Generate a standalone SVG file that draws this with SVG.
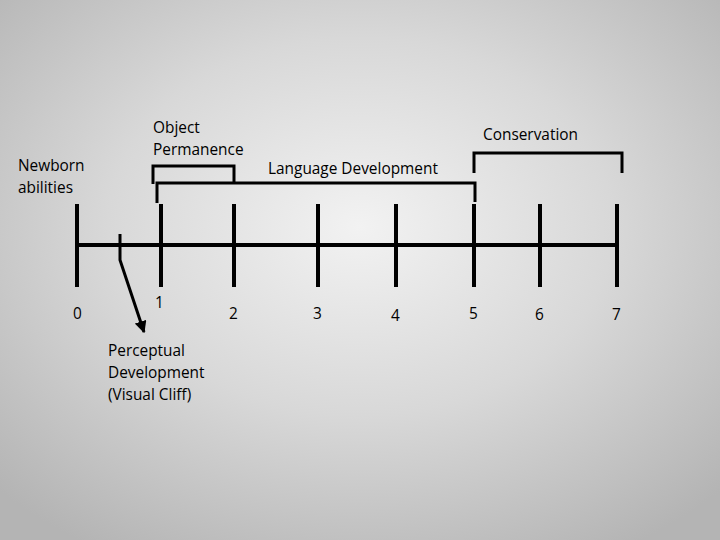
<svg xmlns="http://www.w3.org/2000/svg" width="720" height="540" viewBox="0 0 720 540">
<defs>
<radialGradient id="bg" cx="50%" cy="42%" r="70%"><stop offset="0" stop-color="#f2f2f2"/><stop offset="0.5" stop-color="#d8d8d8"/><stop offset="1" stop-color="#b4b4b4"/></radialGradient>
<marker id="ah" viewBox="0 0 10 10" refX="9" refY="5" markerWidth="4" markerHeight="4" orient="auto"><path d="M0,0 L10,5 L0,10z" fill="#000"/></marker>
<style>.t{font-family:"Open Sans","Liberation Sans",sans-serif;font-size:15.4px;fill:#000}.l{stroke:#000;stroke-width:4;fill:none}.b{stroke:#000;stroke-width:3;fill:none}</style>
</defs>
<rect width="720" height="540" fill="url(#bg)"/>
<g id="connectors">
<line class="l" x1="77" y1="245" x2="617" y2="245"/>
<path class="l" d="M77,204V287M161,204V287M234,204V287M318,204V287M396,204V287M474,204V287M540,204V287M617,204V287"/>
<path class="b" d="M120,234V260L144,332" marker-end="url(#ah)"/>
<path class="b" d="M153,184V166H234V182"/>
<path class="b" d="M157,203V183H475V202"/>
<path class="b" d="M474,173V153H622V173"/>
</g>
<g id="labels">
<text class="t" x="18" y="171">Newborn</text><text class="t" x="18" y="193">abilities</text>
<text class="t" x="153" y="133">Object</text><text class="t" x="153" y="155">Permanence</text>
<text class="t" x="268" y="174">Language Development</text>
<text class="t" x="483" y="140">Conservation</text>
<text class="t" x="108" y="356">Perceptual</text><text class="t" x="108" y="378">Development</text><text class="t" x="108" y="400">(Visual Cliff)</text>
<text class="t" x="73" y="319">0</text><text class="t" x="155" y="308">1</text><text class="t" x="229" y="319">2</text><text class="t" x="313" y="319">3</text><text class="t" x="391" y="321">4</text><text class="t" x="469" y="319">5</text><text class="t" x="535" y="320">6</text><text class="t" x="612" y="320">7</text>
</g>
</svg>
